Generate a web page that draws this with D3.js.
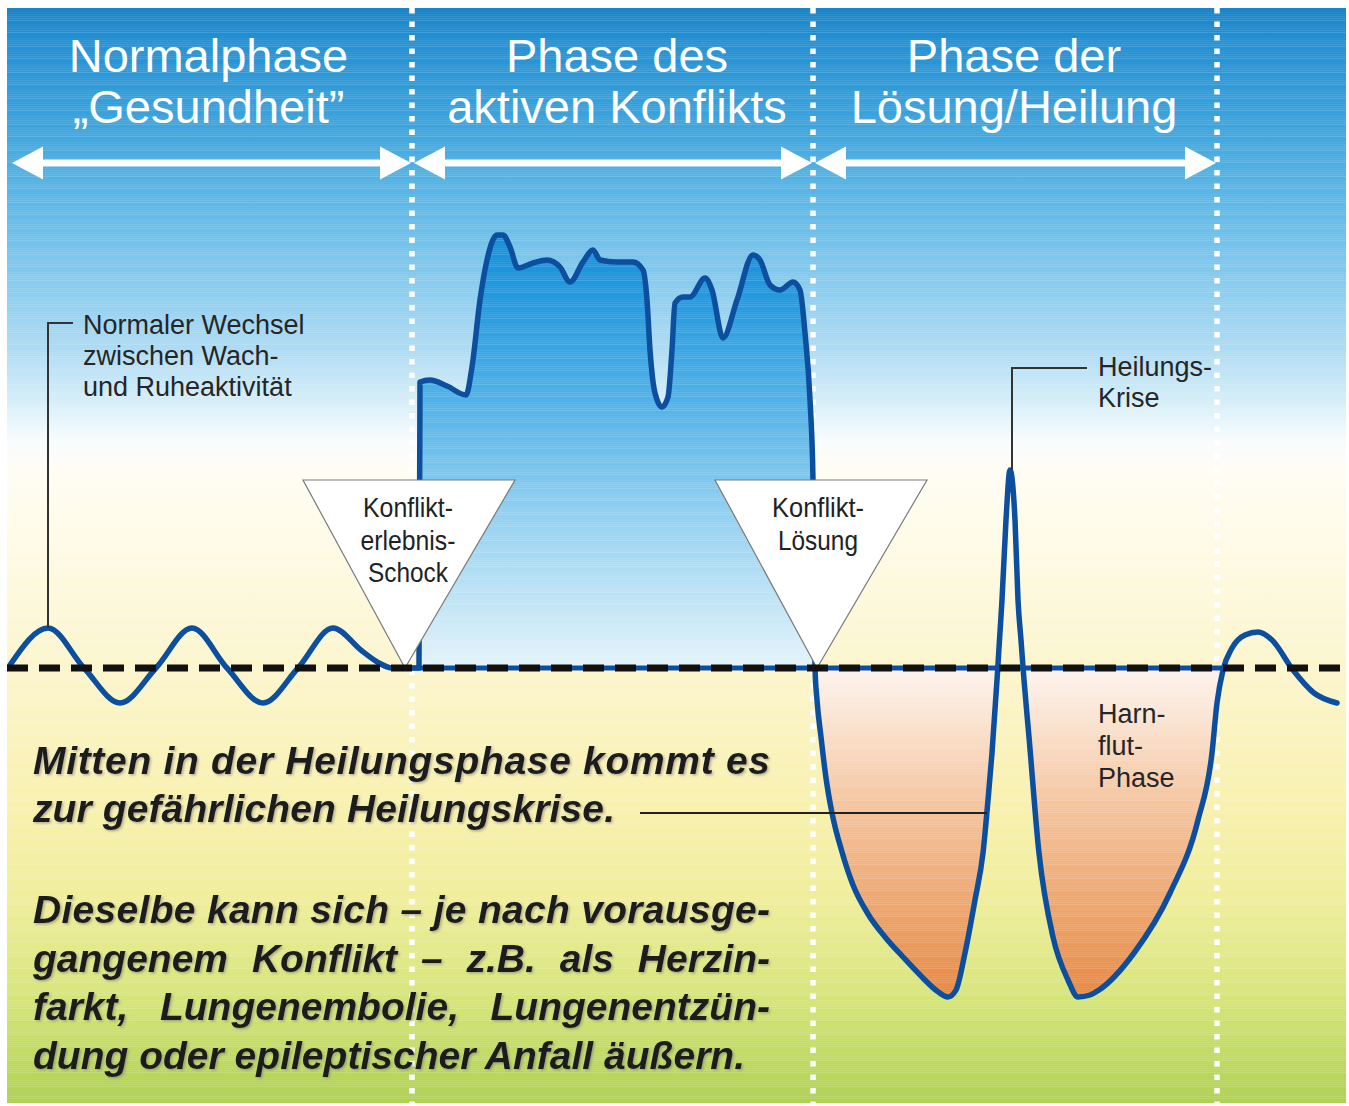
<!DOCTYPE html>
<html><head><meta charset="utf-8">
<script src="https://cdn.jsdelivr.net/npm/d3@7/dist/d3.min.js"></script>
<style>html,body{margin:0;padding:0;background:#fff;} svg{display:block;}</style>
</head><body>
<svg id="chart" width="1349" height="1106"></svg>
<script>
// ================= DATA =================
// time axis: 0..1340 units, activity level: 0 = baseline (positive = sympathicotonic / stress)
const phaseTitles = [["Normalphase", "„Gesundheit”"], ["Phase des", "aktiven Konflikts"], ["Phase der", "Lösung/Heilung"]];
const phaseBounds = [0, 405, 806, 1210];

const normalWave = [[3,3],[41,40],[77,0],[113,-35],[149,0],[185,40],[220,0],[256,-35],[291,0],[326,40],[355,17],[372,5],[385,0],[400,0]];

const conflictCurve = [[412,0],[413,286],[423,288],[440,282],[459,273],[465,301],[473,368],[480,408],[490,433],[496,433],[503,421],[511,400],[526,405],[540,408],[553,401],[563,386],[576,406],[586,418],[593,408],[610,406],[626,406],[636,398],[640,368],[643,318],[648,275],[655,261],[661,271],[665,318],[668,365],[676,371],[683,371],[698,390],[705,378],[716,330],[730,368],[746,413],[753,408],[763,383],[773,378],[786,386],[793,378],[798,335],[803,268],[806,188],[807,68],[808,0]];

const healingCurve = [[810,-32],[814,-69],[819,-110],[825,-145],[835,-184],[846,-217],[861,-246],[878,-269],[896,-289],[915,-309],[930,-323],[941,-329],[949,-322],[958,-285],[968,-232],[976,-185],[981,-132],[985,-85],[990,-12],[992.5,28],[995,68],[999,148],[1003,198],[1008,148],[1011,68],[1014,28],[1017,-12],[1022,-69],[1032,-185],[1046,-269],[1061,-312],[1071,-329],[1083,-327],[1092,-322],[1127,-285],[1163,-225],[1191,-152],[1205,-85],[1210,-35],[1216,-2],[1225,20],[1238,33],[1251,36],[1265,28],[1286,-2],[1307,-25],[1330,-35]];

const eventTimes = [398, 810];
const eventLabels = [["Konflikt-", "erlebnis-", "Schock"], ["Konflikt-", "Lösung"]];
const noteNormal = ["Normaler Wechsel", "zwischen Wach-", "und Ruheaktivität"];
const noteCrisis = ["Heilungs-", "Krise"];
const noteHarn = ["Harn-", "flut-", "Phase"];
const bodyText = [
  "Mitten in der Heilungsphase kommt es",
  "zur gefährlichen Heilungskrise.",
  "Dieselbe kann sich – je nach vorausge-",
  "gangenem Konflikt – z.B. als Herzin-",
  "farkt, Lungenembolie, Lungenentzün-",
  "dung oder epileptischer Anfall äußern."
];

// ================= LAYOUT =================
const svg = d3.select("#chart");
const X0 = 7, Y0 = 8, X1 = 1346, Y1 = 1103;
const x = d3.scaleLinear().domain([0, 1340]).range([7, 1347]);
const y = d3.scaleLinear().domain([-330, 440]).range([998, 228]);
const FONT = "'Liberation Sans', Arial, Helvetica, sans-serif";
const defs = svg.append("defs");

function vGrad(id, stops) {
  const g = defs.append("linearGradient").attr("id", id)
    .attr("gradientUnits", "userSpaceOnUse").attr("x1", 0).attr("x2", 0)
    .attr("y1", stops[0][0]).attr("y2", stops[stops.length - 1][0]);
  const a = stops[0][0], b = stops[stops.length - 1][0];
  stops.forEach(s => g.append("stop").attr("offset", (s[0] - a) / (b - a)).attr("stop-color", s[1]));
}
vGrad("bgGrad", [[8,"#1a84c8"],[40,"#2390d3"],[120,"#3ba3dd"],[200,"#5db8e7"],[280,"#86cbef"],[350,"#aedcf4"],[400,"#d4eef9"],[440,"#f7fcfe"],[470,"#fffdf4"],[560,"#fefae2"],[680,"#fcf5c9"],[800,"#f9f1ad"],[900,"#f0ee98"],[1000,"#d6e577"],[1103,"#afd152"]]);
vGrad("blueGrad", [[232,"#1690da"],[300,"#239ae0"],[400,"#50b2e8"],[500,"#8acdf1"],[600,"#bfe4f7"],[668,"#e4f4fc"]]);
vGrad("orangeGrad", [[668,"#fdf4ee"],[720,"#fbe3d0"],[800,"#f6c6a0"],[900,"#efa870"],[997,"#e88943"]]);

defs.append("clipPath").attr("id", "bgClip").append("rect")
  .attr("x", X0).attr("y", Y0).attr("width", X1 - X0).attr("height", Y1 - Y0);
defs.append("clipPath").attr("id", "blueClip").append("rect")
  .attr("x", x(410)).attr("y", 0).attr("width", x(809) - x(410)).attr("height", y(0));
defs.append("clipPath").attr("id", "orangeClip").append("rect")
  .attr("x", x(805)).attr("y", y(0)).attr("width", x(1217) - x(805)).attr("height", 500);

const shadow = defs.append("filter").attr("id", "txtShadow").attr("x", "-5%").attr("y", "-20%").attr("width", "110%").attr("height", "150%");
shadow.append("feDropShadow").attr("dx", 1.5).attr("dy", 1.5).attr("stdDeviation", 1.2)
  .attr("flood-color", "#777").attr("flood-opacity", 0.55);

// background
svg.append("rect").attr("x", X0).attr("y", Y0).attr("width", X1 - X0).attr("height", Y1 - Y0).attr("fill", "url(#bgGrad)");

// dotted phase boundaries
svg.append("g").selectAll("line").data(phaseBounds.slice(1)).join("line")
  .attr("x1", d => x(d)).attr("x2", d => x(d)).attr("y1", Y0).attr("y2", Y1)
  .attr("stroke", "#fff").attr("stroke-width", 5.5).attr("stroke-dasharray", "5.5 8");

// complete activity curve
const allCurve = normalWave.concat(conflictCurve, healingCurve);
const lineGen = d3.line().x(d => x(d[0])).y(d => y(d[1])).curve(d3.curveMonotoneX);
const areaGen = d3.area().x(d => x(d[0])).y0(y(0)).y1(d => y(d[1])).curve(d3.curveMonotoneX);

svg.append("path").attr("d", areaGen(allCurve)).attr("fill", "url(#blueGrad)").attr("clip-path", "url(#blueClip)");
svg.append("path").attr("d", areaGen(allCurve)).attr("fill", "url(#orangeGrad)").attr("clip-path", "url(#orangeClip)");

// horizontal streak texture
const streaks = svg.append("g").attr("clip-path", "url(#bgClip)");
for (let i = 0; i < 548; i++) {
  const op = ((i * 7919) % 13) / 13 * 0.16;
  if (op < 0.03) continue;
  streaks.append("line").attr("x1", X0).attr("x2", X1)
    .attr("y1", Y0 + i * 2 + 0.5).attr("y2", Y0 + i * 2 + 0.5)
    .attr("stroke", "#fff").attr("stroke-opacity", op).attr("stroke-width", 1);
}

const BLUE = "#0b4f9e";
// baseline segment of curve (closing the areas)
svg.append("line").attr("x1", x(385)).attr("x2", x(1216)).attr("y1", y(0)).attr("y2", y(0))
  .attr("stroke", BLUE).attr("stroke-width", 5);
svg.append("path").attr("d", lineGen(allCurve)).attr("fill", "none")
  .attr("stroke", BLUE).attr("stroke-width", 5.5).attr("stroke-linejoin", "round").attr("stroke-linecap", "round");

// event triangles
const triTop = 188, triHalf = 106;
const tri = svg.append("g");
eventTimes.forEach((t, i) => {
  const ax = x(t), ay = y(0), ty = y(triTop);
  tri.append("path").attr("d", `M${ax - triHalf + 4},${ty}L${ax + triHalf + 4},${ty}L${ax},${ay}Z`)
    .attr("fill", "#fff").attr("stroke", "#7a7a7a").attr("stroke-width", 1.2);
});
const triTextLayout = [
  {cx: 408, base: [517, 550, 582], w: [90, 95, 80]},
  {cx: 818, base: [517, 550], w: [92, 80]}
];
eventLabels.forEach((lines, i) => {
  lines.forEach((s, j) => {
    const L = triTextLayout[i];
    tri.append("text").attr("x", L.cx - L.w[j] / 2).attr("y", L.base[j])
      .attr("textLength", L.w[j]).attr("lengthAdjust", "spacingAndGlyphs")
      .attr("font-family", FONT).attr("font-size", 28).attr("fill", "#222").text(s);
  });
});

// dashed baseline
svg.append("line").attr("x1", X0).attr("x2", 1340).attr("y1", y(0)).attr("y2", y(0))
  .attr("stroke", "#111").attr("stroke-width", 7).attr("stroke-dasharray", "21 11");

// phase arrows & titles
const arrows = svg.append("g");
const headLen = 31, headHalf = 16.5;
const titleDx = [-1, 4.5, -1];
for (let i = 0; i < 3; i++) {
  const xa = x(phaseBounds[i]) + (i === 0 ? 5 : 2), xb = x(phaseBounds[i + 1]) - 1, ay = 163;
  arrows.append("line").attr("x1", xa + headLen - 2).attr("x2", xb - headLen + 2).attr("y1", ay).attr("y2", ay)
    .attr("stroke", "#fff").attr("stroke-width", 7);
  arrows.append("path").attr("d", `M${xa},${ay}L${xa + headLen},${ay - headHalf}L${xa + headLen},${ay + headHalf}Z`).attr("fill", "#fff");
  arrows.append("path").attr("d", `M${xb},${ay}L${xb - headLen},${ay - headHalf}L${xb - headLen},${ay + headHalf}Z`).attr("fill", "#fff");
  const cx = (x(phaseBounds[i]) + x(phaseBounds[i + 1])) / 2 + titleDx[i];
  phaseTitles[i].forEach((s, j) => {
    arrows.append("text").attr("x", cx).attr("y", 72 + j * 51).attr("text-anchor", "middle")
      .attr("font-family", FONT).attr("font-size", 47).attr("fill", "#fff").text(s);
  });
}

// annotations
const ann = svg.append("g").attr("font-family", FONT).attr("font-size", 27).attr("fill", "#262626");
const LEADER = "#333";
ann.append("path").attr("d", `M${x(41)},${y(40)}V323H73`).attr("fill", "none").attr("stroke", LEADER).attr("stroke-width", 2);
noteNormal.forEach((s, j) => ann.append("text").attr("x", 83).attr("y", 334 + j * 31).text(s));
ann.append("path").attr("d", `M${x(1003) + 2},${y(198)}V368H1087`).attr("fill", "none").attr("stroke", LEADER).attr("stroke-width", 2);
noteCrisis.forEach((s, j) => ann.append("text").attr("x", 1098).attr("y", 376 + j * 31).text(s));
noteHarn.forEach((s, j) => ann.append("text").attr("x", 1098).attr("y", 723 + j * 32).text(s));
ann.append("line").attr("x1", 640).attr("x2", 987).attr("y1", 813).attr("y2", 813).attr("stroke", "#222").attr("stroke-width", 2);

// body text
const bodyLayout = [
  {y: 774, w: 737, mode: "letter"},
  {y: 822, w: 582, mode: "letter"},
  {y: 923, w: 737, mode: "letter"},
  {y: 972, w: 737, mode: "word"},
  {y: 1020, w: 737, mode: "word"},
  {y: 1069, w: 712, mode: "letter"}
];
const body = svg.append("g").attr("font-family", FONT).attr("font-size", 39)
  .attr("font-weight", "bold").attr("font-style", "italic").attr("fill", "#1a1a1a").attr("filter", "url(#txtShadow)");
bodyText.forEach((s, i) => {
  const L = bodyLayout[i];
  const t = body.append("text").attr("x", 33).attr("y", L.y).text(s);
  const nat = t.node().getComputedTextLength();
  if (L.mode === "word") {
    const spaces = (s.match(/ /g) || []).length;
    if (spaces > 0) t.attr("word-spacing", (L.w - nat) / spaces);
  } else {
    t.attr("letter-spacing", (L.w - nat) / (s.length - 1));
  }
});
</script>
</body></html>
